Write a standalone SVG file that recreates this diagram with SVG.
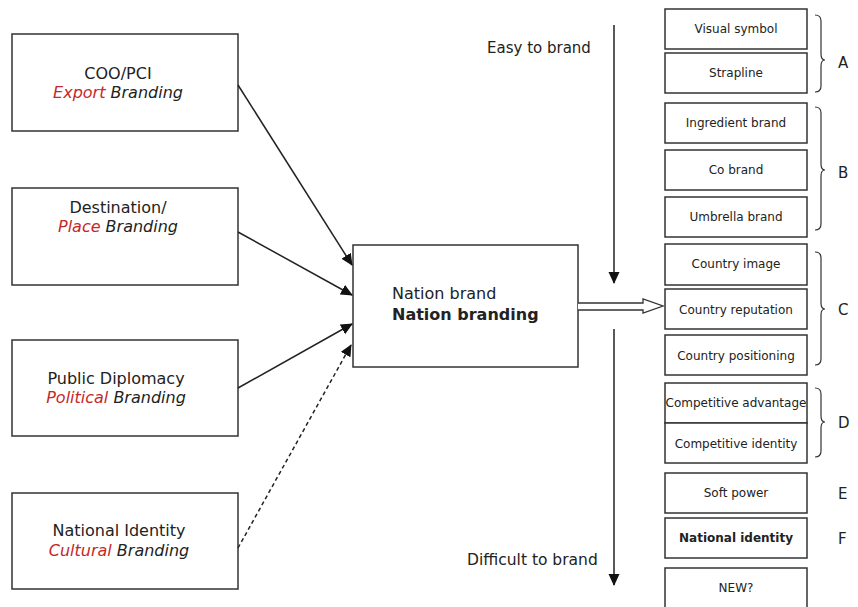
<svg xmlns="http://www.w3.org/2000/svg" width="858" height="607" viewBox="0 0 858 607">
<style>
  .box { fill: #fff; stroke: #333; stroke-width: 1.5; }
  .t { font-family: "DejaVu Sans", "Liberation Sans", sans-serif; fill: #222; }
  .lt { font-size: 16px; text-anchor: middle; }
  .red { fill: #c62828; font-style: italic; }
  .it { font-style: italic; }
  .rt { font-size: 12px; text-anchor: middle; }
  .lab { font-size: 15px; }
  .conn { stroke: #222; stroke-width: 1.5; fill: none; }
  .brace { stroke: #333; stroke-width: 1.2; fill: none; }
</style>
<defs>
  <marker id="ah" markerWidth="12" markerHeight="12" refX="11" refY="6" orient="auto" markerUnits="userSpaceOnUse">
    <path d="M0,0.5 L12,6 L0,11.5 Z" fill="#111"/>
  </marker>
</defs>
<rect width="858" height="607" fill="#fff"/>

<g id="coo">
  <rect class="box" x="12" y="34" width="226" height="97"/>
  <text class="t lt" x="118" y="79">COO/PCI</text>
  <text class="t lt" x="118" y="98"><tspan class="red">Export</tspan><tspan class="it"> Branding</tspan></text>
</g>
<g id="destination">
  <rect class="box" x="12" y="188" width="226" height="97"/>
  <text class="t lt" x="118" y="213">Destination/</text>
  <text class="t lt" x="118" y="232"><tspan class="red">Place</tspan><tspan class="it"> Branding</tspan></text>
</g>
<g id="public">
  <rect class="box" x="12" y="340" width="226" height="96"/>
  <text class="t lt" x="116" y="384">Public Diplomacy</text>
  <text class="t lt" x="116" y="403"><tspan class="red">Political</tspan><tspan class="it"> Branding</tspan></text>
</g>
<g id="national">
  <rect class="box" x="12" y="493" width="226" height="96"/>
  <text class="t lt" x="119" y="536">National Identity</text>
  <text class="t lt" x="119" y="556"><tspan class="red">Cultural</tspan><tspan class="it"> Branding</tspan></text>
</g>
<g id="nation">
  <rect class="box" x="353" y="245" width="225" height="122"/>
  <text class="t" x="392" y="299" font-size="16">Nation brand</text>
  <text class="t" x="392" y="320" font-size="16" font-weight="bold">Nation branding</text>
</g>

<g id="connectors">
  <line class="conn" x1="238" y1="85" x2="352" y2="265" marker-end="url(#ah)"/>
  <line class="conn" x1="238" y1="232" x2="352" y2="295" marker-end="url(#ah)"/>
  <line class="conn" x1="238" y1="388" x2="352" y2="324" marker-end="url(#ah)"/>
  <line class="conn" x1="238" y1="548" x2="351" y2="345" stroke-dasharray="4,3" marker-end="url(#ah)"/>
  <path d="M578,303 L643,303 L643,299 L663,306 L643,313 L643,310 L578,310" fill="#fff" stroke="#333" stroke-width="1.3"/>
  <line class="conn" x1="614" y1="25" x2="614" y2="283" marker-end="url(#ah)"/>
  <line class="conn" x1="614" y1="329" x2="614" y2="585" marker-end="url(#ah)"/>
</g>

<text class="t" x="487" y="53" font-size="15">Easy to brand</text>
<text class="t" x="467" y="565" font-size="15.5">Difficult to brand</text>

<g id="visual"><rect class="box" x="665" y="9" width="142" height="40"/><text class="t rt" x="736" y="33">Visual symbol</text></g>
<g id="strapline"><rect class="box" x="665" y="53" width="142" height="40"/><text class="t rt" x="736" y="77">Strapline</text></g>
<g id="ingredient"><rect class="box" x="665" y="103" width="142" height="40"/><text class="t rt" x="736" y="127">Ingredient brand</text></g>
<g id="cobrand"><rect class="box" x="665" y="150" width="142" height="40"/><text class="t rt" x="736" y="174">Co brand</text></g>
<g id="umbrella"><rect class="box" x="665" y="197" width="142" height="40"/><text class="t rt" x="736" y="221">Umbrella brand</text></g>
<g id="cimage"><rect class="box" x="665" y="244" width="142" height="41"/><text class="t rt" x="736" y="268">Country image</text></g>
<g id="creputation"><rect class="box" x="665" y="289" width="142" height="40"/><text class="t rt" x="736" y="314">Country reputation</text></g>
<g id="cpositioning"><rect class="box" x="665" y="335" width="142" height="40"/><text class="t rt" x="736" y="360">Country positioning</text></g>
<g id="cadvantage"><rect class="box" x="665" y="383" width="142" height="40"/><text class="t rt" x="736" y="407" font-size="11.2">Competitive advantage</text></g>
<g id="cidentity"><rect class="box" x="665" y="423" width="142" height="40"/><text class="t rt" x="736" y="448">Competitive identity</text></g>
<g id="softpower"><rect class="box" x="665" y="473" width="142" height="40"/><text class="t rt" x="736" y="497">Soft power</text></g>
<g id="nidentity"><rect class="box" x="665" y="518" width="142" height="40"/><text class="t rt" x="736" y="542" font-weight="bold">National identity</text></g>
<g id="new"><rect class="box" x="665" y="568" width="142" height="50"/><text class="t rt" x="736" y="592">NEW?</text></g>

<g id="braces">
  <path class="brace" d="M815,15 Q821,15 821,21 L821,54 Q821,60 825,60 Q821,60 821,66 L821,86 Q821,92 815,92"/>
  <path class="brace" d="M815,107 Q821,107 821,113 L821,164 Q821,170 825,170 Q821,170 821,176 L821,224 Q821,230 815,230"/>
  <path class="brace" d="M815,252 Q821,252 821,258 L821,303 Q821,309 825,309 Q821,309 821,315 L821,359 Q821,365 815,365"/>
  <path class="brace" d="M815,388 Q821,388 821,394 L821,416 Q821,422 825,422 Q821,422 821,428 L821,451 Q821,457 815,457"/>
</g>
<text class="t lab" x="838" y="68">A</text>
<text class="t lab" x="838" y="178">B</text>
<text class="t lab" x="838" y="315">C</text>
<text class="t lab" x="838" y="428">D</text>
<text class="t lab" x="838" y="499">E</text>
<text class="t lab" x="838" y="544">F</text>
</svg>
